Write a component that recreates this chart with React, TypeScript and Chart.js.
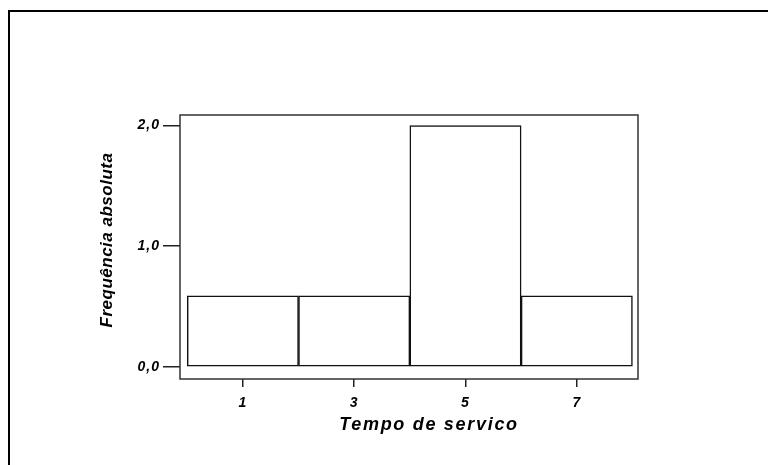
import React, { useEffect, useRef } from "react";
import { Chart, registerables } from "chart.js";

Chart.register(...registerables);

const binCenters = [1, 3, 5, 7];
const frequencies = [0.59, 0.59, 2.0, 0.59];
const yTickValues = [0, 1, 2];
const xTickValues = [1, 3, 5, 7];
const xTitle = "Tempo de servico";
const yTitle = "Frequência absoluta";

const FONT = "'Liberation Sans', Arial, sans-serif";

export default function App() {
  const ref = useRef<HTMLCanvasElement | null>(null);

  useEffect(() => {
    if (!ref.current) return;
    const decor = {
      id: "decor",
      beforeDraw(chart: any) {
        (chart.ctx as any).letterSpacing = "1px";
      },
      afterDraw(chart: any) {
        const ctx = chart.ctx;
        const a = chart.chartArea;
        ctx.save();
        // outer frame
        ctx.strokeStyle = "#000";
        ctx.lineWidth = 2;
        ctx.beginPath();
        ctx.moveTo(9, 465);
        ctx.lineTo(9, 11);
        ctx.lineTo(768, 11);
        ctx.stroke();
        // plot frame
        ctx.strokeStyle = "#333";
        ctx.lineWidth = 1.5;
        ctx.strokeRect(a.left, a.top, a.right - a.left, a.bottom - a.top);
        // titles
        ctx.fillStyle = "#000";
        ctx.font = `italic bold 18px ${FONT}`;
        (ctx as any).letterSpacing = "1.7px";
        ctx.textAlign = "center";
        ctx.textBaseline = "middle";
        ctx.fillText(xTitle, 429, 425);
        ctx.font = `italic bold 17px ${FONT}`;
        (ctx as any).letterSpacing = "0.5px";
        ctx.translate(107, 240);
        ctx.rotate(-Math.PI / 2);
        ctx.fillText(yTitle, 0, 0);
        ctx.restore();
      },
    };

    const chart = new Chart(ref.current, {
      type: "bar",
      data: {
        datasets: [
          {
            data: binCenters.map((x, i) => ({ x, y: frequencies[i] })),
            backgroundColor: "#ffffff",
            borderColor: "#111",
            borderWidth: 1.5,
            borderSkipped: false,
            barPercentage: 1,
            categoryPercentage: 1,
          },
        ],
      },
      options: {
        responsive: false,
        animation: false,
        layout: { padding: { left: 0, top: 115, right: 131, bottom: 0 } },
        plugins: { legend: { display: false }, tooltip: { enabled: false } },
        scales: {
          x: {
            type: "linear",
            offset: false,
            min: -0.13,
            max: 8.1,
            afterFit: (s: any) => {
              s.height = 86;
            },
            afterBuildTicks: (s: any) => {
              s.ticks = xTickValues.map((v) => ({ value: v }));
            },
            border: { display: false },
            grid: {
              offset: false,
              drawOnChartArea: false,
              drawTicks: true,
              tickLength: 8,
              color: "#222",
              lineWidth: 1.5,
            },
            ticks: {
              color: "#000",
              padding: 8,
              maxRotation: 0,
              font: { family: FONT, size: 14, style: "italic", weight: "bold" },
              callback: (v: any) => String(v),
            },
          },
          y: {
            type: "linear",
            min: -0.1,
            max: 2.087,
            afterFit: (s: any) => {
              s.width = 180;
            },
            afterBuildTicks: (s: any) => {
              s.ticks = yTickValues.map((v) => ({ value: v }));
            },
            border: { display: false },
            grid: {
              drawOnChartArea: false,
              drawTicks: true,
              tickLength: 17,
              color: "#222",
              lineWidth: 1.5,
            },
            ticks: {
              color: "#000",
              padding: 3,
              font: { family: FONT, size: 14, style: "italic", weight: "bold" },
              callback: (v: any) => Number(v).toFixed(1).replace(".", ","),
            },
          },
        },
      },
      plugins: [decor],
    });
    return () => chart.destroy();
  }, []);

  return (
    <div style={{ position: "fixed", left: 0, top: 0, width: 769, height: 465, background: "#fff" }}>
      <canvas ref={ref} width={769} height={465} style={{ width: 769, height: 465, display: "block" }} />
    </div>
  );
}
